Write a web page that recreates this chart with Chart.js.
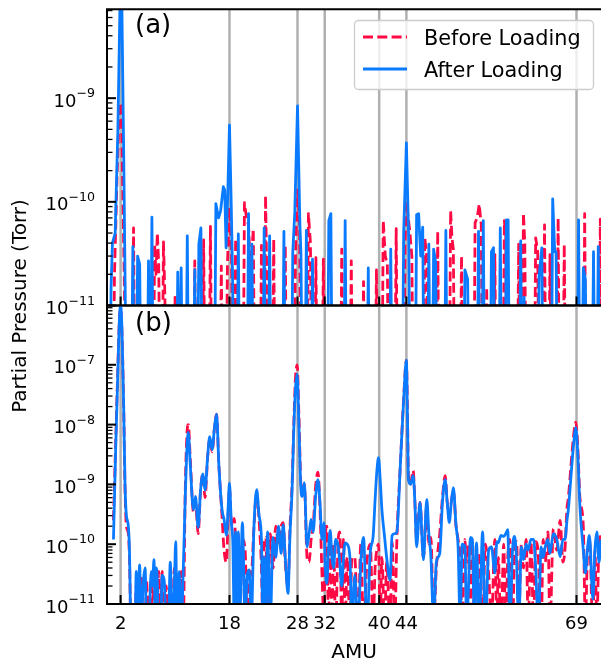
<!DOCTYPE html>
<html>
<head>
<meta charset="utf-8">
<script src="https://cdn.jsdelivr.net/npm/chart.js@4.4.1/dist/chart.umd.min.js"></script>
<style>
  html, body { margin: 0; padding: 0; background: #fff; }
  #wrap { position: relative; width: 601px; height: 663px; overflow: hidden; }
  #wrap canvas { position: absolute; left: 0; top: 0; }
</style>
</head>
<body>
<div id="wrap">
  <canvas id="panelA" width="601" height="663"></canvas>
  <canvas id="panelB" width="601" height="663"></canvas>
</div>
<script>
// ------------------------------------------------------------
// Spectre de masse RGA : pressions partielles avant / après chargement
// (a) zoom bas niveau, (b) spectre complet — deux graphes empilés
// ------------------------------------------------------------

// Raies repérées (lignes grises verticales + graduations de l'axe x)
const markerAmu = [2, 18, 28, 32, 40, 44, 69];
const amuRange = [0, 72.6];
const pressureRangeA = [1e-11, 7.2e-9];
const pressureRangeB = [1e-11, 9.8e-7];
const belowRange = 1e-12; // niveau sous l'axe : le tracé plonge hors cadre
const seriesLabels = ["Before Loading", "After Loading"];
const panelLabels = ["(a)", "(b)"];

// (a) pics isolés : chaque groupe = points [AMU, Torr] consécutifs
const beforeA = [
  [[1.1, 2e-11], [1.5, 2e-10], [1.85, 9e-10], [2.1, 8.5e-10], [2.35, 1e-10], [2.6, 1e-11]],
  [[3.9, 5.6e-11]],
  [[7.0, 3.9e-11], [7.2, 2e-11], [7.4, 5e-11], [7.6, 2.5e-11]],
  [[8.3, 4.1e-11], [8.5, 1.3e-11]],
  [[10.0, 1.2e-11]],
  [[12.9, 2.7e-11]],
  [[14.2, 4.3e-11]],
  [[15.2, 5.8e-11]],
  [[16.8, 2.4e-11]],
  [[17.7, 2.5e-11], [18.0, 8.8e-11], [18.3, 3e-11]],
  [[18.9, 4.4e-11]],
  [[20.2, 9.8e-11], [20.5, 7e-11], [20.8, 6e-11], [21.1, 2e-11], [21.5, 5.5e-11]],
  [[22.7, 3.8e-11]],
  [[23.3, 1.15e-10], [23.5, 1.7e-11]],
  [[24.5, 4.4e-11]],
  [[26.2, 3.8e-11]],
  [[27.7, 3e-11], [28.0, 1.3e-10], [28.3, 6e-11]],
  [[29.6, 7.7e-11], [29.9, 4e-11]],
  [[30.7, 2.9e-11]],
  [[31.8, 2.8e-11]],
  [[34.5, 3.5e-11]],
  [[35.9, 2.7e-11]],
  [[37.7, 1.7e-11]],
  [[39.6, 2.2e-11]],
  [[40.6, 6.6e-11], [40.9, 3e-11], [41.2, 2.5e-11]],
  [[42.5, 5.5e-11]],
  [[43.8, 4e-11], [44.0, 1e-10], [44.5, 5.2e-11], [44.8, 3e-11]],
  [[46.7, 4.5e-11], [47.0, 3e-11]],
  [[48.6, 5.2e-11]],
  [[50.5, 8.2e-11], [50.7, 4.5e-11], [50.9, 3.5e-11]],
  [[52.1, 3e-11]],
  [[54.1, 6.3e-11], [54.4, 7e-11], [54.7, 9.5e-11], [55.0, 6e-11]],
  [[55.8, 1.5e-11]],
  [[57.0, 3.1e-11]],
  [[58.4, 6.6e-11], [58.6, 4.7e-11]],
  [[60.5, 3.9e-11]],
  [[61.2, 7.8e-11], [61.4, 4e-11]],
  [[63.0, 4.5e-11], [63.3, 3.3e-11]],
  [[64.3, 6e-11]],
  [[65.1, 3.1e-11]],
  [[66.3, 7e-11]],
  [[67.2, 3.9e-11]],
  [[70.2, 7.7e-11]],
  [[72.5, 6.8e-11]]
];

const afterA = [
  [[0.6, 1.5e-11], [0.8, 4e-11], [1.2, 5e-11], [1.6, 5e-10], [1.95, 1.2e-8], [2.15, 1.2e-8], [2.45, 3e-10], [2.7, 1e-11]],
  [[3.8, 3.7e-11]],
  [[4.5, 3e-11], [4.8, 2.5e-11]],
  [[6.1, 2.7e-11]],
  [[6.6, 7.1e-11]],
  [[10.4, 2.1e-11]],
  [[10.9, 2.3e-11]],
  [[11.8, 4.7e-11]],
  [[12.9, 2.2e-11]],
  [[13.5, 3.9e-11], [13.8, 5.6e-11]],
  [[16.0, 9.6e-11], [16.4, 7e-11], [16.7, 8.2e-11], [17.1, 1.4e-10], [17.3, 1.3e-10], [17.5, 3.6e-11],
   [17.75, 1.2e-10], [18.0, 5.5e-10], [18.25, 1e-10], [18.45, 2e-11]],
  [[19.3, 4.9e-11]],
  [[20.8, 7.7e-11]],
  [[21.3, 3.9e-11]],
  [[23.1, 5.6e-11]],
  [[23.9, 4.7e-11]],
  [[26.0, 5.2e-11]],
  [[27.3, 3.2e-11], [27.6, 8e-11], [28.0, 8.4e-10], [28.35, 6e-11], [28.5, 3.2e-11]],
  [[29.3, 5.3e-11]],
  [[30.2, 2.8e-11]],
  [[32.6, 6.6e-11], [32.9, 7.7e-11]],
  [[35.0, 6.6e-11]],
  [[38.4, 2.3e-11]],
  [[41.7, 3.5e-11]],
  [[43.6, 5e-11], [44.0, 3.7e-10], [44.35, 4e-11]],
  [[45.5, 7.5e-11], [45.8, 7.7e-11], [46.1, 3e-11], [46.4, 5.7e-11]],
  [[47.3, 3.9e-11]],
  [[48.0, 3.5e-11], [48.3, 2.6e-11]],
  [[49.8, 5.3e-11]],
  [[52.6, 2.2e-11], [53.0, 1.8e-11]],
  [[54.6, 5.2e-11]],
  [[55.3, 6.6e-11]],
  [[56.5, 3.3e-11], [56.8, 3.6e-11]],
  [[57.8, 5.6e-11]],
  [[58.7, 6.7e-11], [58.95, 6.7e-11]],
  [[60.8, 4.2e-11]],
  [[61.3, 1.2e-11]],
  [[63.5, 1.9e-11], [63.9, 3.6e-11]],
  [[65.5, 1.07e-10], [65.8, 3.3e-11], [66.0, 3.3e-11]],
  [[69.3, 6.7e-11]],
  [[70.0, 2.3e-11], [70.3, 1.8e-11]],
  [[71.5, 3.3e-11]],
  [[72.2, 3.7e-11]]
];

// (b) spectre complet : abscisses communes, une valeur par série
const amuB = [
  0.95, 1.25, 1.55, 1.8, 2.0, 2.2, 2.45, 2.65, 2.85, 3.1,
  3.3, 3.5, 4.1, 4.3, 4.5, 4.8, 5.0, 5.3, 5.6, 5.8,
  6.1, 6.5, 6.7, 6.9, 7.1, 7.3, 7.6, 7.9, 8.1, 8.4,
  8.7, 9.0, 9.3, 9.6, 9.9, 10.1, 10.3, 10.6, 10.9, 11.2,
  11.5, 11.75, 11.95, 12.25, 12.7, 13.0, 13.4, 13.75, 14.1, 14.4,
  14.8, 15.1, 15.45, 15.8, 16.1, 16.45, 16.9, 17.2, 17.55, 17.8,
  18.0, 18.25, 18.5, 18.7, 18.9, 19.1, 19.3, 19.5, 19.9, 20.3,
  20.6, 20.9, 21.2, 21.6, 22.0, 22.35, 22.7, 22.9, 23.1, 23.35,
  23.6, 24.0, 24.4, 24.8, 25.2, 25.6, 25.9, 26.2, 26.6, 26.9,
  27.2, 27.45, 27.7, 27.95, 28.2, 28.5, 28.7, 29.0, 29.4, 29.7,
  30.0, 30.3, 30.65, 31.0, 31.3, 31.6, 31.9, 32.05, 32.3, 32.55,
  32.8, 33.05, 33.3, 33.6, 34.0, 34.2, 34.5, 34.75, 35.0, 35.3,
  35.7, 36.0, 36.4, 36.9, 37.3, 37.7, 38.2, 38.7, 39.1, 39.4,
  39.65, 39.9, 40.15, 40.4, 40.8, 41.1, 41.6, 41.9, 42.3, 42.6,
  43.1, 43.6, 44.0, 44.15, 44.3, 44.6, 45.0, 45.25, 45.5, 46.0,
  46.5, 47.0, 47.3, 47.6, 48.0, 48.4, 48.9, 49.3, 49.7, 50.0,
  50.3, 50.6, 50.9, 51.3, 51.6, 51.9, 52.2, 52.6, 52.85, 53.1,
  53.4, 53.7, 54.0, 54.3, 54.7, 55.2, 55.6, 56.1, 56.5, 57.0,
  57.3, 57.5, 57.9, 58.3, 58.6, 58.9, 59.2, 59.6, 59.9, 60.2,
  60.5, 60.9, 61.2, 61.6, 61.9, 62.3, 62.7, 63.0, 63.4, 63.8,
  64.1, 64.4, 64.8, 65.1, 65.6, 66.1, 66.6, 67.0, 67.3, 67.6,
  67.8, 68.3, 68.6, 68.9, 69.2, 69.5, 70.0, 70.3, 70.6, 70.9,
  71.4, 71.7, 72.0, 72.3, 72.6
];

const afterB = [
  1.2e-10, 3e-9, 5e-8, 5e-7, 1e-6, 4e-7, 2e-8, 1e-9, 3e-10, 2.2e-10,
  8e-11, 5e-12, 3e-12, 3.5e-11, 4e-12, 4.5e-11, 3e-12, 2e-11, 4e-11, 4e-12,
  3e-12, 3.5e-11, 2e-11, 5.5e-11, 4e-12, 4e-11, 4e-12, 3e-12, 3e-11, 2.5e-11,
  4e-12, 3e-12, 5e-11, 3e-12, 2e-11, 1.1e-10, 4e-12, 3.5e-11, 4e-12, 3.5e-11,
  6e-10, 4e-9, 7.4e-9, 2e-9, 3.8e-10, 6.3e-10, 1.9e-10, 8e-10, 1.5e-9, 8e-10,
  3e-9, 6.3e-9, 3.8e-9, 9e-9, 1.5e-8, 2e-9, 3.8e-10, 2.6e-10, 1.4e-10, 4e-10,
  1.05e-9, 2.5e-10, 1e-10, 5e-12, 1.6e-10, 5e-12, 1.6e-10, 5e-12, 2.3e-10, 5e-12,
  3e-11, 3.7e-11, 5e-12, 2e-10, 8.2e-10, 3e-10, 1.2e-10, 5e-12, 6e-11, 5e-12,
  1.6e-10, 5e-12, 1.3e-10, 6e-11, 2e-10, 7e-11, 2.1e-10, 6e-11, 1.5e-11, 1.5e-10,
  8e-10, 8e-9, 4e-8, 7e-8, 1e-8, 8.2e-10, 6.3e-10, 1.07e-9, 9e-11, 1.5e-10,
  2.6e-10, 1.6e-10, 6e-10, 1.2e-9, 5e-10, 1.2e-10, 2.3e-10, 5e-11, 2.2e-11, 8e-11,
  1.7e-10, 6e-11, 4e-11, 1.2e-10, 9e-11, 5e-11, 2e-11, 6e-11, 1.05e-10, 1e-10,
  6e-11, 4e-12, 3e-11, 4e-12, 5e-11, 1.3e-10, 4e-12, 7.5e-11, 1.3e-10, 5.5e-10,
  1.6e-9, 2.8e-9, 1.2e-9, 3.8e-10, 1.3e-10, 6e-11, 2.5e-11, 1.4e-10, 1.5e-10, 1.6e-10,
  2e-9, 2.6e-8, 1.2e-7, 1.5e-8, 1.2e-9, 1e-9, 1.4e-9, 5e-10, 9e-11, 5e-10,
  5.5e-11, 5.6e-10, 1.5e-10, 6.3e-11, 5e-12, 5e-11, 7e-11, 5e-10, 1.2e-9, 5e-10,
  2.3e-10, 5e-10, 8.8e-10, 2e-10, 9e-11, 5e-12, 1e-10, 9e-11, 5e-12, 1.5e-11,
  1.3e-10, 1.2e-10, 4e-12, 1.05e-10, 4e-12, 1.6e-10, 4e-12, 8e-11, 9e-11, 3.3e-11,
  1.1e-10, 1.05e-10, 1.4e-10, 1.35e-10, 1.5e-10, 1.75e-10, 4e-12, 8e-11, 1.35e-10, 5e-11,
  4e-12, 9e-11, 5.5e-11, 1e-10, 8e-11, 1.2e-10, 1.2e-10, 4e-11, 4e-12, 9e-11,
  6e-11, 9e-11, 1.2e-10, 7e-11, 1.5e-10, 1.2e-10, 6.2e-11, 1.2e-10, 1.2e-10, 2.5e-10,
  3.8e-10, 2e-9, 5e-9, 8.9e-9, 3e-9, 4.3e-10, 8e-11, 3.3e-11, 8e-11, 1.4e-10,
  1.2e-11, 8e-11, 1.6e-10, 5e-11, 1.2e-10
];

const beforeB = [
  2.5e-10, 4e-9, 6e-8, 5e-7, 8.5e-7, 3.5e-7, 2e-8, 8e-10, 2e-10, 1.6e-10,
  6e-11, 5e-12, 3e-12, 2e-11, 5e-12, 3e-12, 3e-11, 4e-12, 3e-12, 2.5e-11,
  5e-12, 2.5e-11, 4e-12, 3e-11, 4e-11, 3e-12, 3.5e-11, 5e-12, 3.5e-11, 4e-12,
  2e-11, 3e-12, 2e-11, 4e-12, 4e-11, 3e-12, 2e-11, 4e-12, 3.5e-11, 4e-12,
  8e-10, 7e-9, 1e-8, 2.5e-9, 3.5e-10, 5e-10, 1.5e-10, 8e-10, 1.5e-9, 6e-10,
  3e-9, 6e-9, 3.5e-9, 9e-9, 1.5e-8, 2e-9, 3e-10, 8e-11, 5e-11, 3e-10,
  9e-10, 2.5e-10, 2e-10, 2.7e-10, 1.2e-10, 4e-11, 1.5e-10, 5e-12, 1.2e-10, 8e-11,
  5e-12, 4e-11, 3e-11, 2e-10, 7e-10, 2.5e-10, 4e-11, 5e-12, 1e-10, 1.3e-10,
  5e-12, 1.5e-10, 4e-11, 2e-10, 1e-10, 2e-10, 2.3e-10, 5e-11, 2e-11, 2e-10,
  1e-9, 1e-8, 6e-8, 1e-7, 1.5e-8, 1e-9, 8e-10, 1e-9, 6e-11, 5e-11,
  1.2e-10, 2e-10, 9e-10, 1.6e-9, 4e-10, 3e-11, 5e-12, 1e-10, 2e-10, 5e-12,
  8e-11, 5e-12, 1e-10, 5e-12, 1.3e-10, 1.6e-10, 5e-12, 1.2e-10, 4e-12, 6e-11,
  5e-12, 6e-11, 6e-11, 4e-12, 1e-10, 4e-12, 5e-11, 1e-10, 4e-12, 4e-11,
  8e-11, 1e-10, 5e-12, 6e-11, 4e-12, 5e-11, 4e-12, 1.1e-10, 5e-12, 1.2e-10,
  2e-9, 2.8e-8, 1.2e-7, 2e-8, 1.4e-9, 1e-9, 1.7e-9, 5e-10, 1.2e-10, 5e-10,
  6e-11, 4.5e-10, 1e-10, 1.3e-10, 5e-12, 4e-11, 1.5e-10, 6e-10, 1.4e-9, 5e-10,
  3e-10, 5e-10, 8e-10, 2e-10, 1.2e-10, 6e-11, 5e-12, 1.2e-10, 5e-11, 1e-10,
  5e-12, 1.1e-10, 5e-12, 8e-11, 6e-11, 5e-12, 1e-10, 3e-11, 5e-12, 1.2e-10,
  4e-12, 6e-11, 3e-12, 1e-10, 4e-12, 6e-11, 1.2e-10, 3e-12, 9e-11, 1.1e-10,
  5e-12, 1e-10, 4e-11, 1.2e-10, 5e-12, 1.1e-10, 5e-12, 1.1e-10, 6e-11, 3e-12,
  1.2e-10, 5e-11, 1.6e-10, 4e-12, 1.8e-10, 8e-11, 2.5e-10, 5e-11, 8e-11, 4e-10,
  6e-10, 3e-9, 7e-9, 1.1e-8, 4e-9, 6e-10, 2e-10, 5e-12, 6e-11, 1.2e-10,
  4e-12, 8e-11, 5e-12, 1e-10, 1.4e-10
];

const RED = "#ff0a45";
const BLUE = "#0a7bff";
const FONT = '"DejaVu Sans", sans-serif';

// Pics isolés -> points {x, y}, avec retour sous l'axe entre deux groupes.
function spikeSeries(groups) {
  const pts = [{ x: amuRange[0], y: belowRange }];
  groups.forEach(g => {
    pts.push({ x: g[0][0] - 0.2, y: belowRange });
    g.forEach(([x, y]) => pts.push({ x, y }));
    pts.push({ x: g[g.length - 1][0] + 0.2, y: belowRange });
  });
  pts.push({ x: amuRange[1], y: belowRange });
  return pts;
}

function curveSeries(xs, ys) {
  return xs.map((x, i) => ({ x, y: ys[i] }));
}

// Libellé 10^n façon mathtext, aligné à droite
function drawPow10(ctx, n, right, py) {
  const base = "10", exp = "\u2212" + Math.abs(n);
  ctx.font = "18px " + FONT;
  const wb = ctx.measureText(base).width;
  ctx.font = "12.6px " + FONT;
  const we = ctx.measureText(exp).width;
  ctx.fillStyle = "#000";
  ctx.textAlign = "left";
  ctx.textBaseline = "alphabetic";
  ctx.font = "18px " + FONT;
  ctx.fillText(base, right - wb - we, py + 8.5);
  ctx.font = "12.6px " + FONT;
  ctx.fillText(exp, right - we, py - 1);
}

function panelDecor(cfg) {
  return {
    id: "panelDecor",
    beforeDatasetsDraw(chart) {
      const { ctx, chartArea: a, scales: { x } } = chart;
      ctx.save();
      ctx.strokeStyle = "#b0b0b0";
      ctx.lineWidth = 2.5;
      markerAmu.forEach(v => {
        const px = x.getPixelForValue(v);
        ctx.beginPath(); ctx.moveTo(px, a.top); ctx.lineTo(px, a.bottom); ctx.stroke();
      });
      ctx.restore();
    },
    afterDatasetsDraw(chart) {
      const { ctx, chartArea: a, scales: { x, y } } = chart;
      ctx.save();

      // graduations x vers l'intérieur (bas du cadre)
      ctx.strokeStyle = "#000";
      ctx.lineWidth = 2;
      markerAmu.forEach(v => {
        const px = x.getPixelForValue(v);
        ctx.beginPath(); ctx.moveTo(px, a.bottom); ctx.lineTo(px, a.bottom - 9); ctx.stroke();
      });

      // graduations y log : majeures 10^n, mineures k*10^n
      const lo = Math.floor(Math.log10(y.min)), hi = Math.ceil(Math.log10(y.max));
      for (let n = lo; n <= hi; n++) {
        for (let k = 1; k <= 9; k++) {
          const v = k * Math.pow(10, n);
          if (v < y.min * 0.999 || v > y.max * 1.001) continue;
          const py = y.getPixelForValue(v);
          ctx.strokeStyle = "#000";
          ctx.lineWidth = k === 1 ? 2 : 1.3;
          ctx.beginPath(); ctx.moveTo(a.left, py); ctx.lineTo(a.left + (k === 1 ? 9 : 5.5), py); ctx.stroke();
          if (k === 1) drawPow10(ctx, n, a.left - 12, py);
        }
      }

      // cadre
      ctx.strokeStyle = "#000";
      ctx.lineWidth = 2;
      ctx.beginPath();
      ctx.moveTo(a.right + 2, a.top); ctx.lineTo(a.left, a.top);
      ctx.lineTo(a.left, a.bottom); ctx.lineTo(a.right + 2, a.bottom);
      ctx.stroke();

      // repère du panneau
      ctx.fillStyle = "#000";
      ctx.font = "26px " + FONT;
      ctx.textAlign = "left";
      ctx.textBaseline = "alphabetic";
      ctx.fillText(cfg.label, 135, a.top + cfg.labelDy);

      if (cfg.legend) {
        ctx.fillStyle = "rgba(255,255,255,0.8)";
        ctx.strokeStyle = "#cccccc";
        ctx.lineWidth = 1.3;
        ctx.beginPath(); ctx.roundRect(354.5, 20.5, 239, 69, 4); ctx.fill(); ctx.stroke();
        const rows = [
          { text: seriesLabels[0], color: RED, dash: [10, 4.3], y: 37 },
          { text: seriesLabels[1], color: BLUE, dash: [], y: 69 }
        ];
        rows.forEach(r => {
          ctx.strokeStyle = r.color;
          ctx.lineWidth = 2.8;
          ctx.setLineDash(r.dash);
          ctx.beginPath(); ctx.moveTo(363, r.y); ctx.lineTo(407, r.y); ctx.stroke();
          ctx.setLineDash([]);
          ctx.fillStyle = "#000";
          ctx.font = "20.8px " + FONT;
          ctx.fillText(r.text, 424, r.y + 7.5);
        });
      }

      if (cfg.xAxis) {
        ctx.fillStyle = "#000";
        ctx.textAlign = "center";
        ctx.font = "18px " + FONT;
        markerAmu.forEach(v => ctx.fillText(String(v), x.getPixelForValue(v), a.bottom + 25));
        ctx.font = "20px " + FONT;
        ctx.fillText("AMU", (a.left + a.right) / 2, a.bottom + 54);

        ctx.translate(26, 306);
        ctx.rotate(-Math.PI / 2);
        ctx.fillText("Partial Pressure (Torr)", 0, 0);
      }
      ctx.restore();
    }
  };
}

function makePanel(id, datasets, yRange, padding, decor) {
  return new Chart(document.getElementById(id), {
    type: "line",
    data: { datasets },
    options: {
      responsive: false,
      animation: false,
      events: [],
      layout: { padding },
      plugins: { legend: { display: false }, tooltip: { enabled: false } },
      elements: { point: { radius: 0 } },
      scales: {
        x: { type: "linear", min: amuRange[0], max: amuRange[1], display: false },
        y: {
          type: "logarithmic",
          min: yRange[0],
          max: yRange[1],
          grid: { display: false },
          border: { display: false },
          ticks: { display: false },
          afterFit: s => { s.width = 107; }
        }
      }
    },
    plugins: [decor]
  });
}

const lineStyle = {
  before: { borderColor: RED, borderWidth: 2.8, borderDash: [10, 4.3], order: 1, clip: 0, borderJoinStyle: "round" },
  after: { borderColor: BLUE, borderWidth: 2.8, order: 0, clip: 0, borderJoinStyle: "round" }
};

makePanel("panelA", [
  Object.assign({ label: seriesLabels[1], data: spikeSeries(afterA), tension: 0 }, lineStyle.after),
  Object.assign({ label: seriesLabels[0], data: spikeSeries(beforeA), tension: 0 }, lineStyle.before)
], pressureRangeA, { left: 0, right: 0, top: 9.3, bottom: 357.5 },
  panelDecor({ label: panelLabels[0], labelDy: 24, legend: true }));

makePanel("panelB", [
  Object.assign({ label: seriesLabels[1], data: curveSeries(amuB, afterB), cubicInterpolationMode: "monotone" }, lineStyle.after),
  Object.assign({ label: seriesLabels[0], data: curveSeries(amuB, beforeB), cubicInterpolationMode: "monotone" }, lineStyle.before)
], pressureRangeB, { left: 0, right: 0, top: 305.5, bottom: 59 },
  panelDecor({ label: panelLabels[1], labelDy: 25.5, xAxis: true }));
</script>
</body>
</html>
